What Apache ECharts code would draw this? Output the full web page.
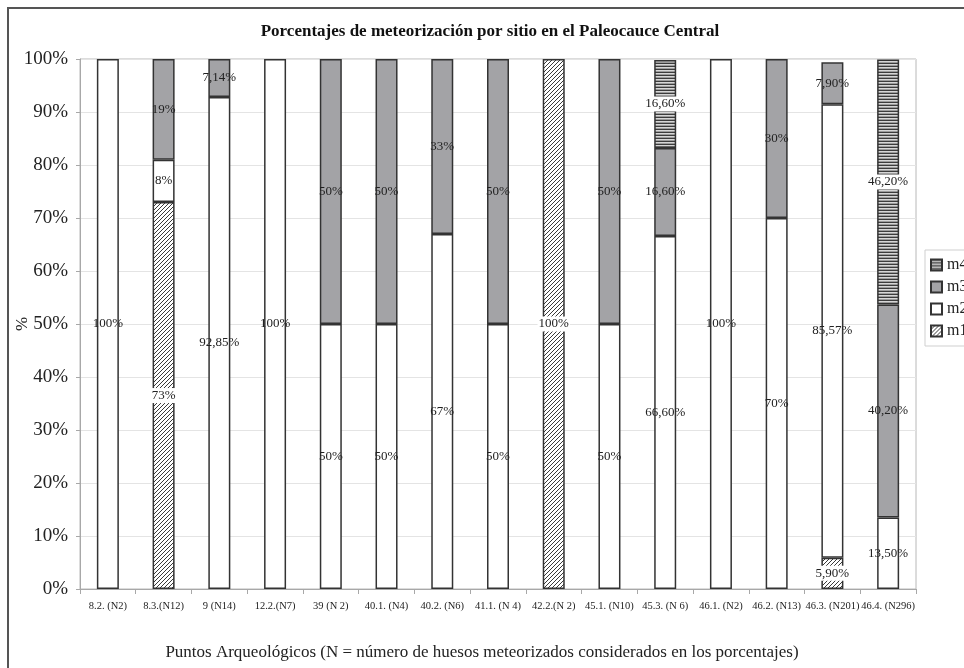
<!DOCTYPE html>
<html>
<head>
<meta charset="utf-8">
<script src="https://cdn.jsdelivr.net/npm/echarts@6/dist/echarts.min.js"></script>
<style>
  html, body { margin: 0; padding: 0; background: #fff; }
  #chart { width: 964px; height: 668px; }
</style>
</head>
<body>
<div id="chart"></div>
<script>
// Sites along the Paleocauce Central (N = weathered bones counted)
const categories = [
  '8.2. (N2)', '8.3.(N12)', '9 (N14)', '12.2.(N7)', '39 (N 2)', '40.1. (N4)',
  '40.2. (N6)', '41.1. (N 4)', '42.2.(N 2)', '45.1. (N10)', '45.3. (N 6)',
  '46.1. (N2)', '46.2. (N13)', '46.3. (N201)', '46.4. (N296)'
];

// Weathering stage percentages per site (null = stage absent)
const m1 = [null, 73, null, null, null, null, null, null, 100, null, null, null, null, 5.9, null];
const m2 = [100, 8, 92.85, 100, 50, 50, 67, 50, null, 50, 66.6, 100, 70, 85.57, 13.5];
const m3 = [null, 19, 7.14, null, 50, 50, 33, 50, null, 50, 16.6, null, 30, 7.9, 40.2];
const m4 = [null, null, null, null, null, null, null, null, null, null, 16.6, null, null, null, 46.2];

const yTicks = [0, 10, 20, 30, 40, 50, 60, 70, 80, 90, 100];

const SERIF = '"Liberation Serif", "DejaVu Serif", serif';

// Fill patterns: diagonal hatch for m1, horizontal stripes for m4
function hatchPattern() {
  const c = document.createElement('canvas');
  c.width = 4; c.height = 4;
  const g = c.getContext('2d');
  g.fillStyle = '#ffffff';
  g.fillRect(0, 0, 4, 4);
  g.fillStyle = '#3a3a3a';
  for (let i = 0; i < 4; i++) g.fillRect(i, 3 - i, 1, 1);
  return c;
}
function stripePattern() {
  const c = document.createElement('canvas');
  c.width = 4; c.height = 3;
  const g = c.getContext('2d');
  const rows = ['#3c3c3c', '#d6d6d6', '#9c9c9c'];
  rows.forEach((col, i) => { g.fillStyle = col; g.fillRect(0, i, 4, 1); });
  return c;
}

function fmt(v) {
  return Number.isInteger(v) ? v + '%' : v.toFixed(2).replace('.', ',') + '%';
}

function makeSeries(name, data, fill, labelBg) {
  return {
    name: name,
    type: 'bar',
    stack: 'total',
    barWidth: 22,
    data: data.map(v => (v === null ? '-' : v)),
    itemStyle: { color: fill, borderColor: '#333333', borderWidth: 1.5 },
    label: {
      show: true,
      position: 'inside',
      color: '#222',
      fontFamily: SERIF,
      fontSize: 13,
      backgroundColor: labelBg,
      padding: labelBg ? [1, 1] : 0,
      formatter: p => fmt(p.value)
    },
    emphasis: { disabled: true }
  };
}

const chart = echarts.init(document.getElementById('chart'), null, { renderer: 'canvas' });

chart.setOption({
  animation: false,
  backgroundColor: '#ffffff',
  title: [
    {
      text: 'Porcentajes de meteorización por sitio en el Paleocauce Central',
      left: 485, top: 18, textAlign: 'center',
      textStyle: { fontFamily: SERIF, fontWeight: 'bold', fontSize: 17, color: '#111' }
    },
    {
      text: 'Puntos Arqueológicos (N = número de huesos meteorizados considerados en los porcentajes)',
      left: 477, top: 639, textAlign: 'center',
      textStyle: { fontFamily: SERIF, fontWeight: 'normal', fontSize: 17, color: '#222' }
    }
  ],
  graphic: [
    {
      type: 'rect', silent: true, z: -1,
      shape: { x: 8, y: 8, width: 1000, height: 1000 },
      style: { fill: 'none', stroke: '#555555', lineWidth: 2 }
    }
  ],
  legend: {
    orient: 'vertical',
    left: 925, top: 250,
    data: ['m4', 'm3', 'm2', 'm1'],
    backgroundColor: '#ffffff',
    borderColor: '#cfcfcf',
    borderWidth: 1,
    padding: [7, 8, 7, 5],
    itemWidth: 11, itemHeight: 11, itemGap: 6,
    icon: 'rect',
    textStyle: { fontFamily: SERIF, fontSize: 16, color: '#222' }
  },
  grid: {
    left: 80, right: 48, top: 59, bottom: 79,
    outerBoundsMode: 'none',
    show: true, borderColor: '#b8b8b8', borderWidth: 1
  },
  xAxis: {
    type: 'category',
    data: categories,
    axisLine: { lineStyle: { color: '#a8a8a8', width: 1 } },
    axisTick: { show: true, alignWithLabel: false, length: 5, lineStyle: { color: '#a8a8a8' } },
    axisLabel: { fontFamily: SERIF, fontSize: 10.5, color: '#222', margin: 12, interval: 0 }
  },
  yAxis: {
    type: 'value',
    min: yTicks[0], max: yTicks[yTicks.length - 1], interval: 10,
    name: '%', nameLocation: 'middle', nameGap: 49, nameRotate: 90,
    nameMoveOverlap: false,
    nameTextStyle: { fontFamily: SERIF, fontSize: 17, color: '#222' },
    axisLine: { show: true, lineStyle: { color: '#a8a8a8' } },
    axisTick: { show: true, length: 4, lineStyle: { color: '#a8a8a8' } },
    axisLabel: { fontFamily: SERIF, fontSize: 19, color: '#222', margin: 12, formatter: v => v + '%' },
    splitLine: { lineStyle: { color: '#e4e4e4' } }
  },
  series: [
    makeSeries('m1', m1, { image: hatchPattern(), repeat: 'repeat' }, '#ffffff'),
    makeSeries('m2', m2, '#ffffff', null),
    makeSeries('m3', m3, '#a3a3a6', null),
    makeSeries('m4', m4, { image: stripePattern(), repeat: 'repeat' }, '#ffffff')
  ]
});
</script>
</body>
</html>
